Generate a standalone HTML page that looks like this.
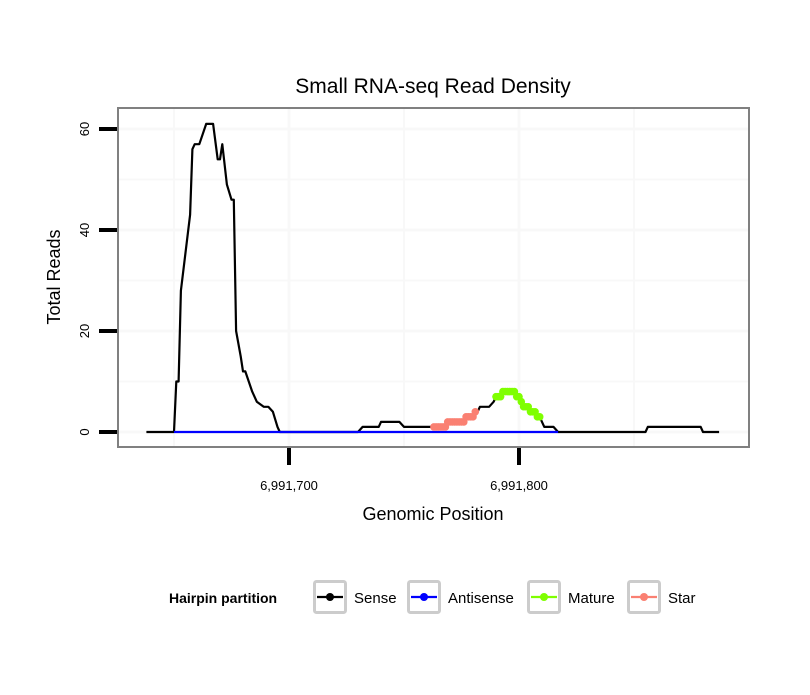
<!DOCTYPE html>
<html><head><meta charset="utf-8"><style>
body{margin:0;background:#fff}
svg text{font-family:"Liberation Sans",sans-serif}
</style></head><body>
<svg id="c" width="810" height="690" xmlns="http://www.w3.org/2000/svg">
<rect width="810" height="690" fill="#fff"/>
<text x="433" y="93" font-size="21" text-anchor="middle">Small RNA-seq Read Density</text>
<g id="grid"></g>
<g id="series"></g>
<rect x="118" y="108" width="631" height="339" fill="none" stroke="#808080" stroke-width="2"/>
<g id="axes"></g>
<text x="433" y="520" font-size="18" text-anchor="middle">Genomic Position</text>
<text transform="translate(60,277) rotate(-90)" font-size="18" text-anchor="middle">Total Reads</text>
<g>
<text x="169" y="603" font-size="14" font-weight="bold">Hairpin partition</text>
<g id="legend"></g>
</g>
</svg>
<script>
const senseX=[6991638,6991650,6991651,6991652,6991653,6991657,6991658,6991659,6991661,6991664,6991667,6991669,6991670,6991671,6991673,6991675,6991676,6991677,6991679,6991680,6991681,6991684,6991686,6991689,6991691,6991693,6991695,6991696,6991730,6991732,6991739,6991740,6991748,6991750,6991762,6991763,6991768,6991769,6991776,6991777,6991780,6991781,6991782,6991783,6991787,6991789,6991790,6991793,6991797,6991800,6991802,6991806,6991809,6991811,6991815,6991817,6991855,6991856,6991879,6991880,6991887];
const senseY=[0,0,10,10,28,43,56,57,57,61,61,54,54,57,49,46,46,20,15,12,12,8,6,5,5,4,1,0,0,1,1,2,2,1,1,1,1,2,2,3,3,4,4,5,5,6,7,8,8,7,5,4,3,1,1,0,0,1,1,0,0];
const antiX=[6991650,6991817];
const antiY=[0,0];
const starX=[6991763,6991764,6991765,6991766,6991767,6991768,6991769,6991770,6991771,6991772,6991773,6991774,6991775,6991776,6991777,6991778,6991779,6991780,6991781];
const starY=[1,1,1,1,1,1,2,2,2,2,2,2,2,2,3,3,3,3,4];
const matureX=[6991790,6991791,6991792,6991793,6991794,6991795,6991796,6991797,6991798,6991799,6991800,6991801,6991802,6991803,6991804,6991805,6991806,6991807,6991808,6991809];
const matureY=[7,7,7,8,8,8,8,8,8,7,7,6,5,5,5,4,4,4,3,3];
const yTicks=[0,20,40,60];
const xTicks=[6991700,6991800];
const xTickLabels=["6,991,700","6,991,800"];
const legendLabels=["Sense","Antisense","Mature","Star"];
const legendColors=["#000","#0000ff","#7fff00","#fa8072"];

const NS="http://www.w3.org/2000/svg";
const xs=v=>289+(v-6991700)*2.3;
const ys=v=>432-v*5.05;
function mk(t,a,p){const e=document.createElementNS(NS,t);for(const k in a)e.setAttribute(k,a[k]);p.appendChild(e);return e;}
const grid=document.getElementById('grid'),ser=document.getElementById('series'),ax=document.getElementById('axes'),lg=document.getElementById('legend');
for(let v=0;v<=60;v+=10){const l=mk('line',{x1:118,x2:749,y1:ys(v),y2:ys(v),stroke:'#f8f8f8','stroke-width':v%20?2:3},grid);

}
for(let v=6991650;v<=6991850;v+=50){const l=mk('line',{x1:xs(v),x2:xs(v),y1:108,y2:447,stroke:'#f8f8f8','stroke-width':v%100?2:3},grid);

}
function line(X,Y,c,name){const d=X.map((x,i)=>(i?'L':'M')+xs(x).toFixed(1)+','+ys(Y[i]).toFixed(1)).join('');
const p=mk('path',{d:d,fill:'none',stroke:c,'stroke-width':2.2,'stroke-linejoin':'round'},ser);

}
function pts(X,Y,c,name){X.forEach((x,i)=>{const p=mk('circle',{cx:xs(x),cy:ys(Y[i]),r:3.8,fill:c},ser);

});}
line(senseX,senseY,'#000','sense-line');
line(antiX,antiY,'#0000ff','antisense-line');
line(starX,starY,'#fa8072','star-line');pts(starX,starY,'#fa8072','star-point');
line(matureX,matureY,'#7fff00','mature-line');pts(matureX,matureY,'#7fff00','mature-point');
yTicks.forEach(v=>{const t=mk('line',{x1:99,x2:117,y1:ys(v),y2:ys(v),stroke:'#000','stroke-width':4},ax);


const tx=mk('text',{transform:`translate(89,${ys(v)}) rotate(-90)`,'font-size':13,'text-anchor':'middle'},ax);tx.textContent=v;

});
xTicks.forEach((v,i)=>{const t=mk('line',{x1:xs(v),x2:xs(v),y1:448,y2:465,stroke:'#000','stroke-width':4},ax);


const tx=mk('text',{x:xs(v),y:490,'font-size':13,'text-anchor':'middle'},ax);tx.textContent=xTickLabels[i];

});
const kx=[313,407,527,627];
legendLabels.forEach((lab,i)=>{const g=mk('g',{},lg);


mk('rect',{x:kx[i]+1.5,y:581.5,width:31,height:31,rx:2,fill:'#fff',stroke:'#ccc','stroke-width':3},g);
mk('line',{x1:kx[i]+4,x2:kx[i]+30,y1:597,y2:597,stroke:legendColors[i],'stroke-width':2.2},g);
mk('circle',{cx:kx[i]+17,cy:597,r:4,fill:legendColors[i]},g);
const t=mk('text',{x:kx[i]+41,y:603,'font-size':15},g);t.textContent=lab;});
</script>
</body></html>
